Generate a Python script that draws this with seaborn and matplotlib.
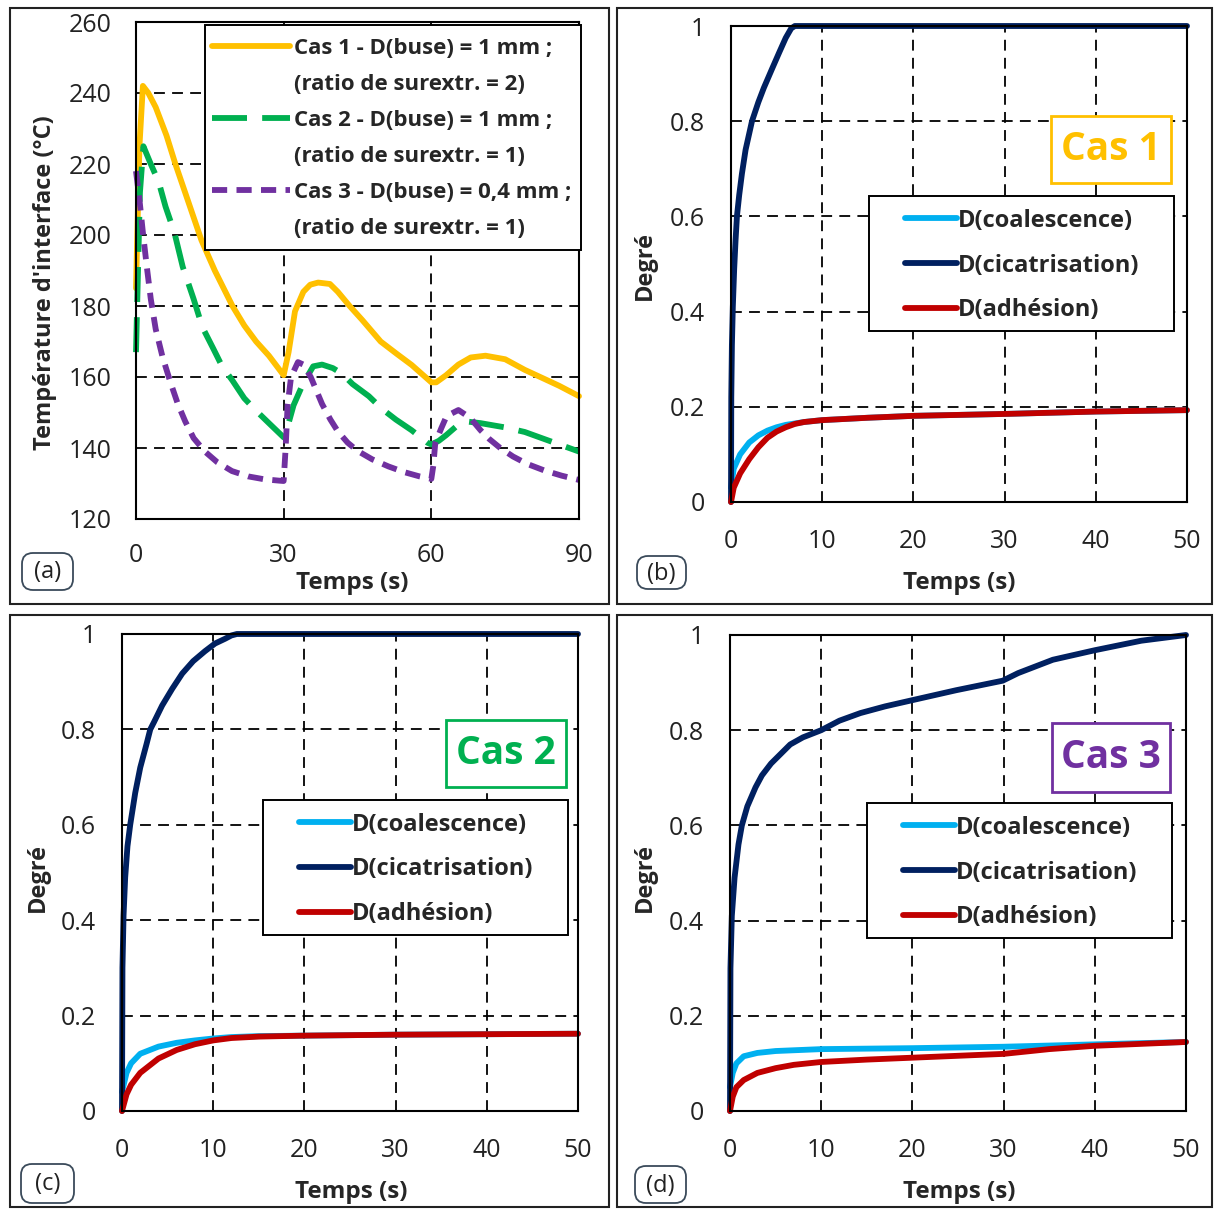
import numpy as np
import pandas as pd
import matplotlib
matplotlib.use("Agg")
import matplotlib.pyplot as plt
import seaborn as sns
from matplotlib.lines import Line2D
from matplotlib.patches import Rectangle, FancyBboxPatch
from matplotlib.ticker import MultipleLocator, FuncFormatter

# ---------- DATA ----------
# (a) interface temperature, 3 cases
t_cas1 = [0, 0.7, 1.4, 2.5, 4, 6.2, 8, 10.1, 13.3, 16, 19.6, 22, 24.4, 27, 30, 31, 32.3, 34, 35.4, 37,
          39.4, 41, 43.4, 46, 49.7, 53, 56, 60, 61, 63, 65.5, 68, 71, 75, 79, 82.9, 86, 90]
T_cas1 = [185, 225, 242, 240, 236, 228, 220, 211.5, 198.5, 190, 180, 174.5, 170, 166, 160.5, 167, 178.5,
          184, 186, 186.6, 186.2, 184, 180, 176, 170, 166.5, 163.4, 158.5, 158.5, 160.5, 163.5, 165.5,
          166, 165, 162, 159.5, 157.5, 154.6]
t_cas2 = [0, 0.8, 1.5, 3, 4.6, 6, 7.8, 9.5, 11.7, 13.5, 15.7, 17.5, 19.6, 22, 24.4, 27, 30, 31, 32, 33.9,
          36, 37.8, 40, 41.8, 44, 47.3, 50, 52.8, 56, 59.2, 60, 61.5, 63, 65, 67, 70, 75, 79, 83, 86,
          88.4, 90]
T_cas2 = [167, 212, 225, 220, 215, 208, 200.7, 191, 182, 174, 168, 163, 159, 154, 150.5, 147, 143, 147,
          152, 158, 163, 163.5, 162.5, 161, 158, 154.6, 151, 148, 145, 141.5, 141, 142, 143.6, 146,
          147.5, 147, 145.8, 144.5, 142.5, 141, 139.8, 139]
t_cas3 = [0, 0.7, 1.4, 2.2, 3, 4, 5.4, 7, 8.5, 10, 11.7, 14, 16.5, 19.5, 22.8, 26, 29.1, 30, 30.4, 30.8,
          31.5, 32.9, 34, 35.5, 37.8, 39.5, 41, 43, 45, 48, 51.3, 54.5, 57.6, 60, 60.4, 60.8, 62, 63.1,
          65.5, 67.9, 70, 71.8, 74, 76.6, 79.5, 82.9, 86.5, 90]
T_cas3 = [218, 210, 200.7, 191, 182, 173.5, 165.6, 158.5, 152.4, 147.5, 142.8, 139, 136, 133.5, 132,
          131.2, 130.8, 130.7, 140, 152, 160, 164.2, 163.5, 160, 152.4, 148, 144.7, 141.5, 139.2, 136.8,
          134.8, 133.2, 132, 131.3, 135, 141.4, 145.5, 149, 150.7, 148.5, 145, 142.5, 140, 137.6, 135.5,
          133.7, 132.2, 131]
labels_a = ["Cas 1 - D(buse) = 1 mm ;", "Cas 2 - D(buse) = 1 mm ;", "Cas 3 - D(buse) = 0,4 mm ;"]
sub_a = ["(ratio de surextr. = 2)", "(ratio de surextr. = 1)", "(ratio de surextr. = 1)"]

# (b) Cas 1 degrees
tb_cic = [0, 0.03, 0.1, 0.2, 0.35, 0.5, 0.65, 0.9, 1.2, 1.6, 2.3, 3, 3.6, 4.5, 5.3, 6, 6.6, 7, 10, 20,
          30, 40, 50]
Db_cic = [0, 0.22, 0.33, 0.41, 0.49, 0.55, 0.6, 0.645, 0.69, 0.74, 0.8, 0.84, 0.87, 0.91, 0.945, 0.975,
          0.995, 1, 1, 1, 1, 1, 1]
tb_coa = [0, 0.3, 1, 2, 3, 4, 5, 6, 7, 8, 10, 15, 20, 30, 40, 50]
Db_coa = [0.03, 0.07, 0.1, 0.125, 0.14, 0.15, 0.157, 0.162, 0.165, 0.168, 0.172, 0.177, 0.181, 0.185, 0.19, 0.193]
tb_adh = [0, 0.3, 1, 2, 3, 4, 5, 6, 7, 8, 10, 15, 20, 30, 40, 50]
Db_adh = [0, 0.03, 0.06, 0.09, 0.115, 0.135, 0.148, 0.157, 0.164, 0.168, 0.172, 0.177, 0.181, 0.185, 0.19, 0.193]

# (c) Cas 2 degrees
tc_cic = [0, 0.05, 0.17, 0.35, 0.6, 0.9, 1.45, 2, 2.7, 3.1, 3.5, 4.4, 5.5, 6.6, 7.8, 9.1, 10.2, 11.3,
          12, 12.6, 20, 30, 40, 50]
Dc_cic = [0, 0.3, 0.41, 0.49, 0.555, 0.6, 0.667, 0.72, 0.77, 0.8, 0.815, 0.85, 0.885, 0.917, 0.943,
          0.964, 0.98, 0.99, 0.997, 1, 1, 1, 1, 1]
tc_coa = [0, 0.5, 1, 2, 4, 6, 8, 10, 12, 15, 20, 30, 40, 50]
Dc_coa = [0.04, 0.08, 0.1, 0.12, 0.135, 0.143, 0.148, 0.152, 0.155, 0.157, 0.158, 0.16, 0.161, 0.162]
tc_adh = [0, 0.5, 1, 2, 4, 6, 8, 10, 12, 15, 20, 30, 40, 50]
Dc_adh = [0, 0.035, 0.055, 0.08, 0.11, 0.128, 0.14, 0.148, 0.153, 0.156, 0.158, 0.16, 0.161, 0.162]

# (d) Cas 3 degrees
td_cic = [0, 0.05, 0.2, 0.5, 0.93, 1.3, 1.9, 2.8, 3.5, 4.5, 6.6, 8, 10, 12, 14.3, 17, 20.2, 24.8, 29.9,
          31.6, 35.4, 40, 45.1, 50]
Dd_cic = [0, 0.3, 0.41, 0.49, 0.56, 0.6, 0.64, 0.68, 0.705, 0.73, 0.77, 0.785, 0.80, 0.82, 0.836, 0.85,
          0.864, 0.884, 0.904, 0.92, 0.948, 0.968, 0.988, 1.0]
td_coa = [0, 0.3, 0.7, 1.5, 3, 5, 10, 20, 30, 40, 50]
Dd_coa = [0.05, 0.08, 0.1, 0.115, 0.122, 0.126, 0.13, 0.132, 0.135, 0.14, 0.145]
td_adh = [0, 0.3, 0.7, 1.5, 3, 5, 7, 10, 15, 20, 25, 30, 35, 40, 45, 50]
Dd_adh = [0, 0.03, 0.05, 0.065, 0.08, 0.09, 0.097, 0.103, 0.108, 0.112, 0.116, 0.12, 0.13, 0.137, 0.141, 0.145]

labels_d = ["D(coalescence)", "D(cicatrisation)", "D(adhésion)"]

# ---------- STYLE ----------
W, H = 1214, 1209
ORANGE, GREEN, PURPLE = "#FFC000", "#00B050", "#7030A0"
CYAN, NAVY, RED = "#00B0F0", "#002060", "#C00000"
LW = 4.2

sns.set_style("white")
plt.rcParams["font.family"] = ["Open Sans", "DejaVu Sans"]


def fx(px):
    return px / W


def fy(py):
    return 1 - py / H


def box(l, t, r, b):
    return [fx(l), fy(b), (r - l) / W, (b - t) / H]


def style_axes(ax, xmax, xmaj, xmin, ylo, yhi, ymaj, ymin, fmt):
    ax.set_xlim(0, xmax)
    ax.set_ylim(ylo, yhi)
    ax.xaxis.set_major_locator(MultipleLocator(xmaj))
    ax.xaxis.set_minor_locator(MultipleLocator(xmin))
    ax.yaxis.set_major_locator(MultipleLocator(ymaj))
    ax.yaxis.set_minor_locator(MultipleLocator(ymin))
    ax.yaxis.set_major_formatter(FuncFormatter(fmt))
    ax.grid(True, which="major", color="black", lw=1.3, ls=(0, (6, 4)))
    ax.set_axisbelow(True)
    for s in ax.spines.values():
        s.set_visible(True)
        s.set_linewidth(1.5)
        s.set_color("black")
    ax.tick_params(which="major", direction="inout", length=11, width=1.4,
                   labelsize=18, labelcolor="#222222", pad=12)
    ax.tick_params(which="minor", direction="in", length=5.5, width=1.4)
    ax.tick_params(axis="x", which="major", pad=12)
    ax.set_xlabel("")
    ax.set_ylabel("")


def draw(ax, t, v, color, **kw):
    df = pd.DataFrame({"t": t, "v": v})
    sns.lineplot(data=df, x="t", y="v", ax=ax, color=color, lw=LW, sort=False,
                 estimator=None, legend=False, **kw)
    line = ax.lines[-1]
    line.set_clip_on(False)
    line.set_solid_joinstyle("round")
    ax.set_xlabel("")
    ax.set_ylabel("")
    return line


fig = plt.figure(figsize=(W / 100, H / 100), dpi=100)

# panel frames
for l, t, r, b in [(10, 8, 609, 604), (617, 8, 1212, 604), (10, 615, 609, 1207), (617, 615, 1212, 1207)]:
    fig.add_artist(Rectangle((fx(l), fy(b)), (r - l) / W, (b - t) / H, transform=fig.transFigure,
                             fill=False, ec="#222222", lw=1.5))

# ---------- (a) ----------
ax = fig.add_axes(box(136, 22, 579, 519))
style_axes(ax, 90, 30, 5, 120, 260, 20, 5, lambda v, p: f"{v:g}")
h1 = draw(ax, t_cas1, T_cas1, ORANGE)
h2 = draw(ax, t_cas2, T_cas2, GREEN, linestyle=(0, (6, 2.6)))
h3 = draw(ax, t_cas3, T_cas3, PURPLE, linestyle=(0, (2.6, 1.6)))
blank = [Line2D([], [], color="none") for _ in range(3)]
handles = [h1, blank[0], h2, blank[1], h3, blank[2]]
labs = [labels_a[0], sub_a[0], labels_a[1], sub_a[1], labels_a[2], sub_a[2]]
ax.add_patch(Rectangle((fx(205), fy(250)), 376 / W, 225 / H, transform=fig.transFigure,
                       fc="white", ec="black", lw=1.4, zorder=4, clip_on=False))
ax.legend(handles, labs, loc="center left", bbox_to_anchor=(fx(212), fy(138.5)),
          bbox_transform=fig.transFigure, frameon=False, borderpad=0, borderaxespad=0,
          handlelength=3.5, handletextpad=0.2, labelspacing=0.68,
          prop={"weight": "bold", "size": 16})
fig.text(fx(45), fy(283), "Température d'interface (°C)", rotation=90, ha="center", va="center",
         fontsize=17, fontweight="bold")
fig.text(fx(352), fy(583), "Temps (s)", ha="center", va="center", fontsize=17.5, fontweight="bold")

# ---------- (b), (c), (d) ----------
panels = [
    (box(731, 26, 1187, 502), (tb_coa, Db_coa), (tb_cic, Db_cic), (tb_adh, Db_adh),
     "Cas 1", ORANGE, (1051, 116, 1171, 183), (869, 196, 1174, 331), 645, 265, 959, 583),
    (box(122, 634, 578, 1111), (tc_coa, Dc_coa), (tc_cic, Dc_cic), (tc_adh, Dc_adh),
     "Cas 2", GREEN, (446, 720, 566, 787), (263, 800, 568, 935), 38, 878, 351, 1192),
    (box(730, 635, 1186, 1111), (td_coa, Dd_coa), (td_cic, Dd_cic), (td_adh, Dd_adh),
     "Cas 3", PURPLE, (1052, 723, 1170, 792), (867, 803, 1172, 938), 645, 878, 959, 1192),
]

for rect, coa, cic, adh, cas, ccol, cbox, lbox, ylx, yly, xlx, xly in panels:
    ax = fig.add_axes(rect)
    style_axes(ax, 50, 10, 2, 0, 1, 0.2, 0.04, lambda v, p: f"{v:g}")
    ax.tick_params(axis="x", which="major", pad=14)
    ax.tick_params(axis="y", which="major", pad=13)
    hc = draw(ax, coa[0], coa[1], CYAN)
    hn = draw(ax, cic[0], cic[1], NAVY)
    hr = draw(ax, adh[0], adh[1], RED)
    l, t, r, b = lbox
    ax.add_patch(Rectangle((fx(l), fy(b)), (r - l) / W, (b - t) / H, transform=fig.transFigure,
                           fc="white", ec="black", lw=1.4, zorder=4, clip_on=False))
    ax.legend([hc, hn, hr], labels_d, loc="center left",
              bbox_to_anchor=(fx(l + 36), fy((t + b) / 2 + 2)), bbox_transform=fig.transFigure,
              frameon=False, borderpad=0, borderaxespad=0, handlelength=2.2,
              handletextpad=0.05, labelspacing=0.88, prop={"weight": "bold", "size": 17})
    l, t, r, b = cbox
    fig.add_artist(Rectangle((fx(l), fy(b)), (r - l) / W, (b - t) / H, transform=fig.transFigure,
                             fc="white", ec=ccol, lw=2))
    fig.text(fx((l + r) / 2), fy((t + b) / 2), cas, ha="center", va="center", color=ccol,
             fontsize=28, fontweight="bold")
    fig.text(fx(ylx), fy(yly), "Degré", rotation=90, ha="center", va="center",
             fontsize=17, fontweight="bold")
    fig.text(fx(xlx), fy(xly), "Temps (s)", ha="center", va="center", fontsize=17.5,
             fontweight="bold")

# panel letters
for lab, (l, t, r, b) in zip(["(a)", "(b)", "(c)", "(d)"],
                             [(22, 553, 73, 590), (637, 556, 686, 589),
                              (21, 1164, 74, 1203), (635, 1166, 686, 1203)]):
    fig.add_artist(FancyBboxPatch((fx(l), fy(b)), (r - l) / W, (b - t) / H,
                                  boxstyle="round,pad=0,rounding_size=0.009",
                                  transform=fig.transFigure, fc="white", ec="#3a4a5a", lw=1.3))
    fig.text(fx((l + r) / 2), fy((t + b) / 2 + 1), lab, ha="center", va="center", fontsize=17,
             color="#222222")

fig.savefig("out.png", dpi=100)
